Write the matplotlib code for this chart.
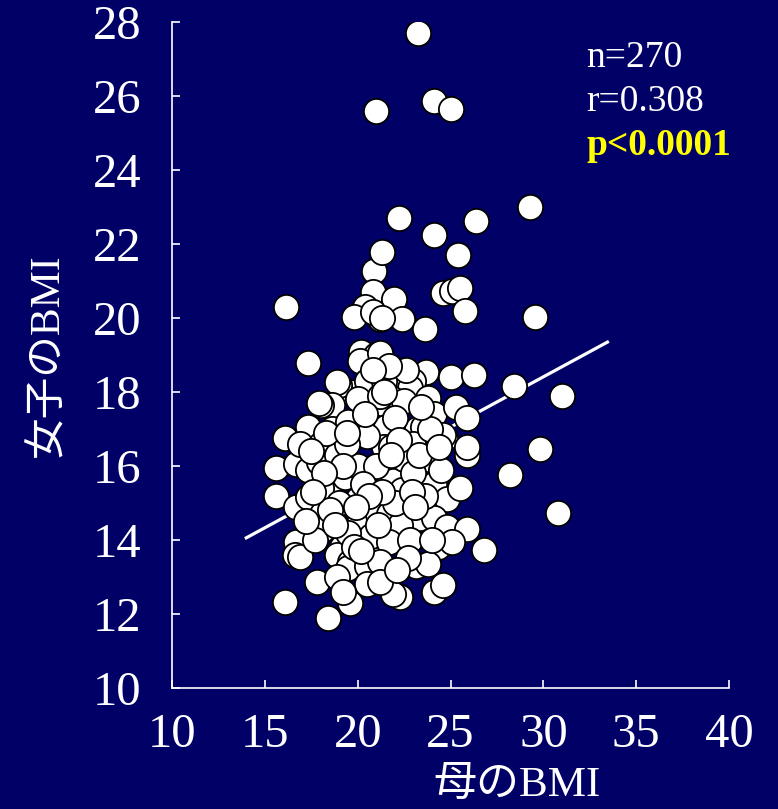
import numpy as np
import matplotlib
matplotlib.use('Agg')
import matplotlib.pyplot as plt

# mother BMI (x) / daughter BMI (y)
mother_bmi = [
    23.25, 21.0, 24.1, 25.0, 29.3, 26.35, 22.2, 24.1, 25.4, 16.15, 20.9, 21.3,
    24.6, 25.1, 25.5, 29.55, 25.8, 17.3, 31.0, 28.4, 29.8, 28.2, 30.8, 26.8,
    16.1, 18.4, 15.6, 15.6, 16.1, 16.7, 19.6, 22.3, 24.1, 24.6, 23.15,
    20.8, 21.95, 20.4, 19.8, 21.2, 22.4, 23.65, 20.8, 21.3, 20.2, 21.0, 20.1,
    21.2, 23.7, 25.0, 26.25, 22.1, 23.0, 22.8, 21.8, 23.8, 19.6, 19.0, 18.9,
    20.5, 21.4, 18.6, 18.0, 17.9, 20.3, 21.0, 22.5, 24.1, 25.3, 25.9, 17.3,
    18.6, 19.95, 20.9, 21.5, 23.2, 23.5, 24.7, 25.9, 21.4, 18.9, 16.9, 18.0,
    21.8, 23.0, 25.9, 23.8, 24.6,
    16.7, 17.3, 18.1, 18.1, 16.7, 16.6, 16.9, 19.15, 18.9, 19.6, 19.5, 17.8,
    18.9, 20.9, 20.8, 20.0, 18.6, 19.3, 18.0, 17.3, 17.9, 18.9, 20.1, 21.1,
    20.5, 20.5, 21.5, 21.6, 20.7, 21.5, 21.9, 22.4, 24.1, 24.8, 25.5, 21.7,
    23.35, 24.1, 24.8, 25.9, 22.3, 21.7, 24.3, 25.1, 23.8, 21.2, 21.9, 21.2,
    19.5, 20.5, 22.0, 22.5, 19.0, 20.0, 21.0, 22.0, 23.0, 19.5, 20.3, 21.3,
    22.8, 20.0, 21.2, 22.6, 21.7, 20.8, 19.4, 18.3, 17.5, 17.7, 19.2, 22.7,
    23.6, 24.5, 23.3, 19.8, 18.5, 17.2,
    19.2, 20.6, 22.2, 23.9, 18.2, 19.9, 21.1, 22.9, 24.4, 20.4, 21.8, 23.1,
    18.8, 20.2, 22.1, 24.0, 19.4, 21.4, 23.4, 17.6,
]
daughter_bmi = [
    27.70, 25.59, 25.86, 25.65, 23.0, 22.62, 22.70, 22.24, 21.70, 20.30, 21.27, 21.78,
    20.67, 20.72, 20.82, 20.03, 20.19, 18.78, 17.90, 18.17, 16.45, 15.75, 14.72, 13.74,
    12.32, 11.88, 15.95, 15.2, 16.75, 16.05, 12.3, 12.45, 12.6, 12.78, 13.3,
    20.7, 20.5, 20.3, 20.02, 19.97, 19.97, 19.7, 20.15, 20.0, 19.08, 19.0, 18.85,
    19.05, 18.55, 18.4, 18.45, 18.4, 18.3, 18.1, 17.85, 17.85, 18.0, 18.2, 18.27,
    18.3, 18.3, 17.65, 17.65, 17.7, 17.57, 17.6, 17.75, 17.4, 17.6, 17.3, 17.05,
    17.0, 16.9, 17.05, 17.05, 17.0, 17.05, 16.75, 16.3, 16.5, 16.35, 16.6, 16.6,
    16.5, 16.6, 16.5, 16.2, 16.85,
    14.9, 15.15, 14.7, 14.27, 13.95, 13.6, 13.55, 13.8, 13.6, 13.4, 13.25, 12.86,
    13.0, 13.6, 13.95, 15.1, 15.6, 15.7, 15.4, 15.9, 16.1, 16.3, 14.6, 14.7,
    13.3, 12.8, 15.8, 14.3, 14.1, 13.05, 15.6, 15.35, 15.5, 15.1, 15.4, 14.7,
    14.6, 14.6, 14.35, 14.3, 14.4, 13.95, 13.8, 13.95, 13.35, 13.4, 12.55, 12.86,
    17.2, 16.8, 17.3, 16.2, 15.0, 16.0, 16.0, 15.0, 15.8, 14.2, 15.5, 15.3,
    14.0, 17.8, 17.9, 18.6, 18.7, 18.6, 16.6, 16.9, 16.4, 14.0, 12.6, 13.5,
    15.2, 15.9, 16.3, 13.8, 14.8, 14.5,
    16.0, 15.2, 16.7, 17.0, 15.8, 14.9, 14.4, 15.3, 16.5, 17.4, 16.3, 14.9,
    14.4, 13.7, 13.2, 14.0, 16.9, 18.0, 17.6, 15.3,
]

# regression line: daughter = a + b * mother
fit_a, fit_b = 10.25, 0.272
fit_x = [14.0, 33.45]

stats_lines = ['n=270', 'r=0.308']
p_text = 'p<0.0001'

bg = '#000066'
fonts = ['Liberation Serif', 'Noto Sans CJK JP']
plt.rcParams['font.family'] = fonts

fig = plt.figure(figsize=(7.78, 8.09), dpi=100, facecolor=bg)
ax = fig.add_axes([0.2211, 0.1496, 0.716, 0.8232], facecolor=bg)

ax.scatter(mother_bmi, daughter_bmi, s=330, facecolor='white',
           edgecolor='black', linewidth=1.3, zorder=3)

fx = np.array(fit_x)
ax.plot(fx, fit_a + fit_b * fx, color='white', lw=2.3, zorder=2)

ax.set_xlim(10, 40)
ax.set_ylim(10, 28)
ax.set_xticks(range(10, 41, 5))
ax.set_yticks(range(10, 29, 2))

for side in ['top', 'right']:
    ax.spines[side].set_visible(False)
for side in ['left', 'bottom']:
    ax.spines[side].set_color('white')
    ax.spines[side].set_linewidth(1.2)

ax.tick_params(direction='in', length=6, width=1.2, color='white',
               labelcolor='white', labelsize=35, pad=18)
ax.tick_params(axis='y', pad=22)

ax.set_xlabel('母のBMI', color='white', fontsize=31, labelpad=0)
ax.xaxis.set_label_coords(0.62, -0.118)
ax.set_ylabel('女子のBMI', color='white', fontsize=30)
ax.yaxis.set_label_coords(-0.19, 0.5)

fig.text(0.754, 0.917, stats_lines[0], color='white', fontsize=27)
fig.text(0.754, 0.863, stats_lines[1], color='white', fontsize=27)
fig.text(0.754, 0.808, p_text, color='yellow', fontsize=27, fontweight='bold')

fig.savefig('out.png', dpi=100, facecolor=bg)
